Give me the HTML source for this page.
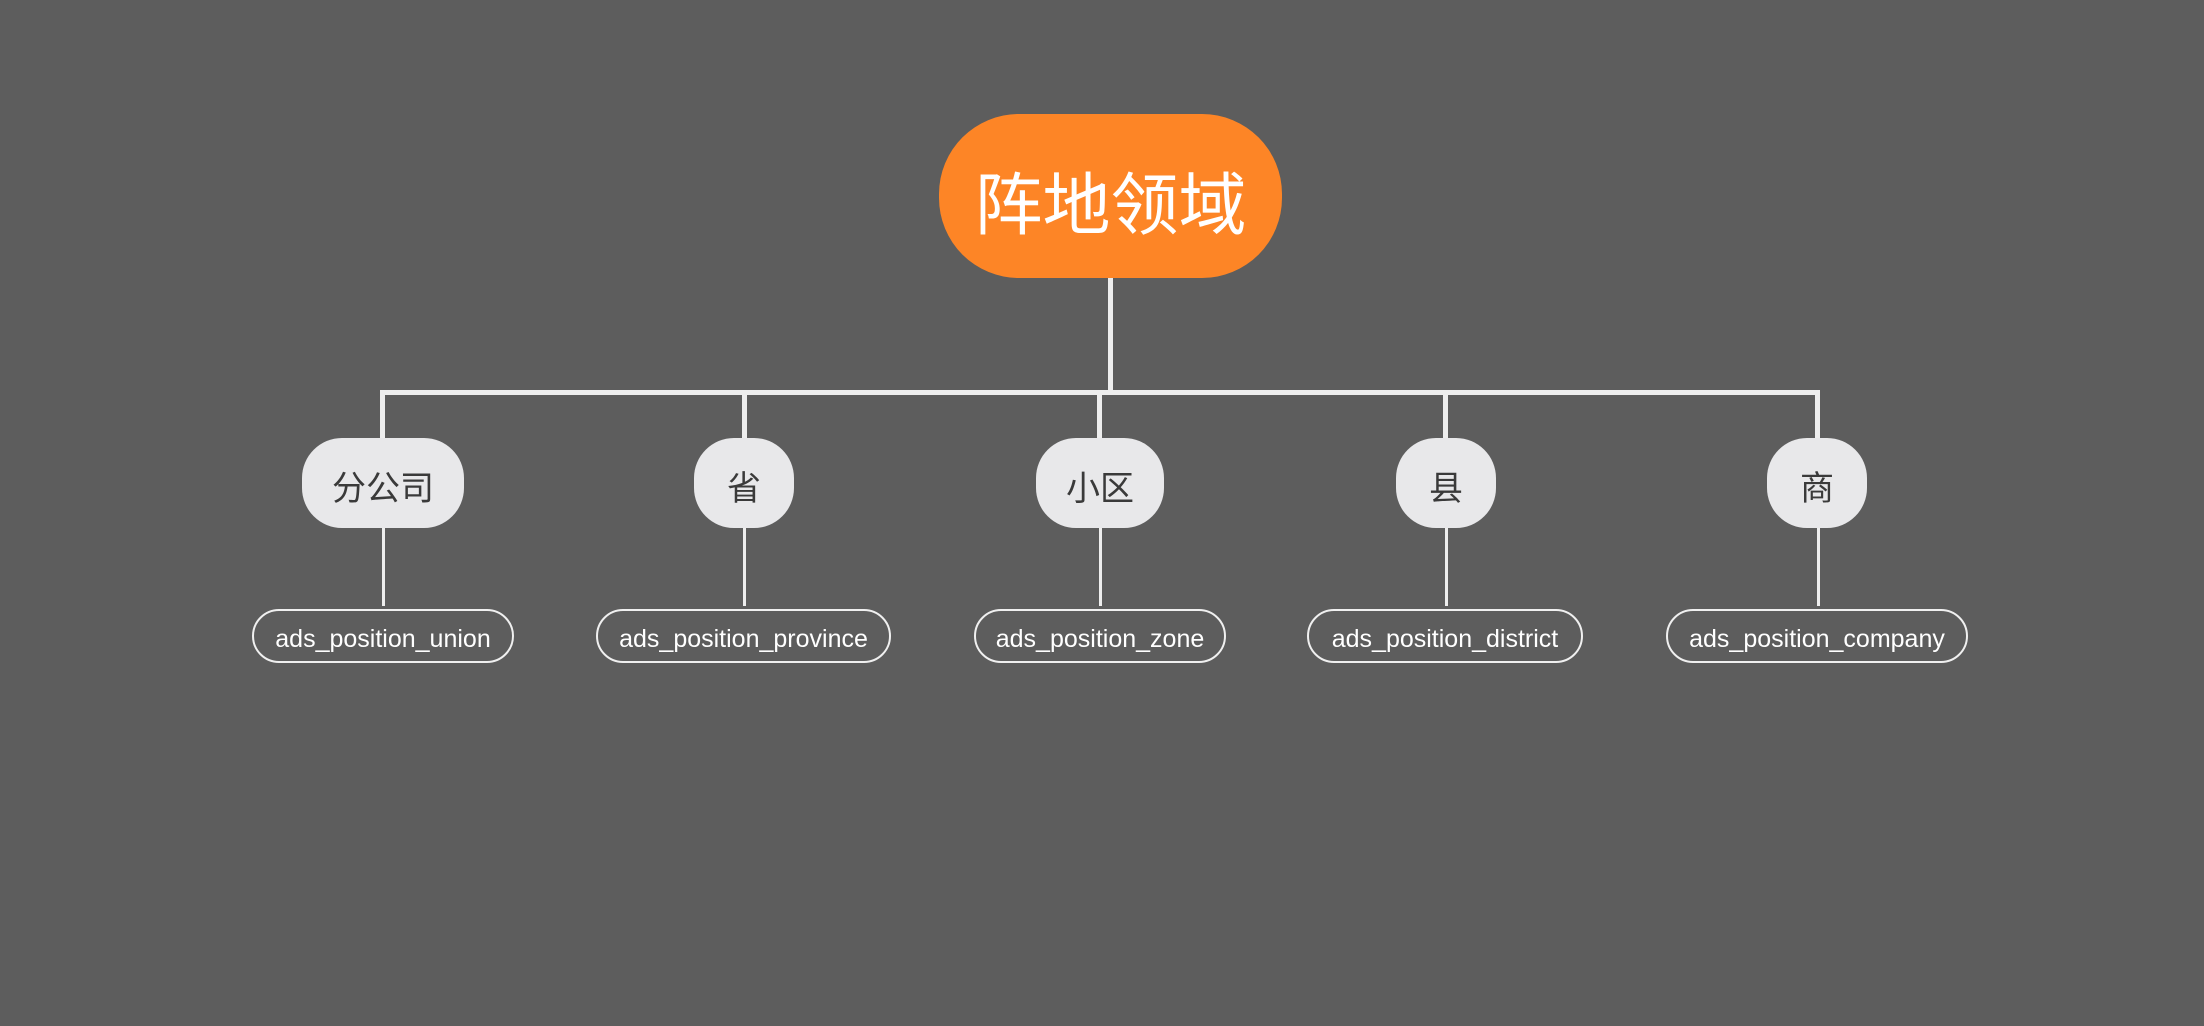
<!DOCTYPE html>
<html><head><meta charset="utf-8"><style>
html,body{margin:0;padding:0;}
body{width:2204px;height:1026px;background:#5d5d5d;position:relative;overflow:hidden;font-family:"Liberation Sans","Noto Sans CJK SC",sans-serif;}
.b{position:absolute;display:flex;align-items:center;justify-content:center;box-sizing:border-box;white-space:nowrap;}
.root{left:939px;top:114px;width:343px;height:164px;border-radius:80px;background:#fd8526;color:#fff;font-size:68px;padding-top:6px;}
.c{top:438px;height:90px;border-radius:40px;background:#e8e8ea;color:#3a3a3a;font-size:34px;padding-top:4px;}
.l{top:609px;height:54px;border-radius:27px;border:2px solid #f0f0f0;color:#fff;font-size:25px;padding-top:6px;}
.v{position:absolute;background:#eeeeee;}
</style></head><body>
<div class="v" style="left:1108px;top:278px;width:5px;height:116px"></div>
<div class="v" style="left:380px;top:390px;width:1440px;height:5px"></div>
<div class="v" style="left:380px;top:390px;width:5px;height:50px"></div>
<div class="v" style="left:742px;top:390px;width:5px;height:50px"></div>
<div class="v" style="left:1097px;top:390px;width:5px;height:50px"></div>
<div class="v" style="left:1443px;top:390px;width:5px;height:50px"></div>
<div class="v" style="left:1815px;top:390px;width:5px;height:50px"></div>
<div class="v" style="left:382px;top:528px;width:3px;height:78px"></div>
<div class="v" style="left:743px;top:528px;width:3px;height:78px"></div>
<div class="v" style="left:1099px;top:528px;width:3px;height:78px"></div>
<div class="v" style="left:1445px;top:528px;width:3px;height:78px"></div>
<div class="v" style="left:1817px;top:528px;width:3px;height:78px"></div>
<div class="b root">阵地领域</div>
<div class="b c" style="left:302px;width:162px">分公司</div>
<div class="b c" style="left:694px;width:100px">省</div>
<div class="b c" style="left:1036px;width:128px">小区</div>
<div class="b c" style="left:1396px;width:100px">县</div>
<div class="b c" style="left:1767px;width:100px">商</div>
<div class="b l" style="left:252px;width:262px">ads_position_union</div>
<div class="b l" style="left:596px;width:295px">ads_position_province</div>
<div class="b l" style="left:974px;width:252px">ads_position_zone</div>
<div class="b l" style="left:1307px;width:276px">ads_position_district</div>
<div class="b l" style="left:1666px;width:302px">ads_position_company</div>
</body></html>
